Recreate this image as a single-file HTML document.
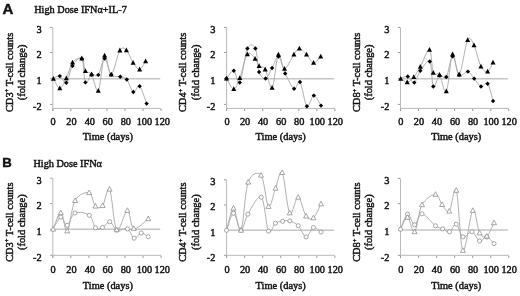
<!DOCTYPE html>
<html><head><meta charset="utf-8"><title>Figure</title>
<style>
html,body{margin:0;padding:0;background:#fff;}
body{width:520px;height:296px;overflow:hidden;}
svg{display:block;filter:blur(0.35px);}
text{font-family:"Liberation Serif",serif;fill:#111;stroke:#111;stroke-width:0.45px;}
text.lbl{font-family:"Liberation Sans",sans-serif;font-weight:bold;}
</style></head>
<body>
<svg width="520" height="296" viewBox="0 0 520 296">
<rect width="520" height="296" fill="#fff"/>
<line x1="52.80" y1="27.40" x2="52.80" y2="111.00" stroke="#b8b8b8" stroke-width="1"/>
<line x1="50.20" y1="27.40" x2="52.30" y2="27.40" stroke="#959595" stroke-width="1"/>
<text x="41.60" y="32.80" text-anchor="end" font-size="10.3">3</text>
<line x1="50.20" y1="52.50" x2="52.30" y2="52.50" stroke="#959595" stroke-width="1"/>
<text x="41.60" y="57.90" text-anchor="end" font-size="10.3">2</text>
<line x1="50.20" y1="78.70" x2="52.30" y2="78.70" stroke="#959595" stroke-width="1"/>
<text x="41.60" y="84.10" text-anchor="end" font-size="10.3">1</text>
<line x1="50.20" y1="104.40" x2="52.30" y2="104.40" stroke="#959595" stroke-width="1"/>
<text x="41.60" y="109.80" text-anchor="end" font-size="10.3">-2</text>
<line x1="52.80" y1="108.40" x2="161.10" y2="108.40" stroke="#b8b8b8" stroke-width="1"/>
<line x1="52.80" y1="108.90" x2="52.80" y2="111.00" stroke="#959595" stroke-width="1"/>
<text x="53.00" y="125.30" text-anchor="middle" font-size="10.3">0</text>
<line x1="70.85" y1="108.90" x2="70.85" y2="111.00" stroke="#959595" stroke-width="1"/>
<text x="71.45" y="125.30" text-anchor="middle" font-size="10.3">20</text>
<line x1="88.90" y1="108.90" x2="88.90" y2="111.00" stroke="#959595" stroke-width="1"/>
<text x="89.80" y="125.30" text-anchor="middle" font-size="10.3">40</text>
<line x1="106.95" y1="108.90" x2="106.95" y2="111.00" stroke="#959595" stroke-width="1"/>
<text x="107.75" y="125.30" text-anchor="middle" font-size="10.3">60</text>
<line x1="125.00" y1="108.90" x2="125.00" y2="111.00" stroke="#959595" stroke-width="1"/>
<text x="125.80" y="125.30" text-anchor="middle" font-size="10.3">80</text>
<line x1="143.05" y1="108.90" x2="143.05" y2="111.00" stroke="#959595" stroke-width="1"/>
<text x="144.45" y="125.30" text-anchor="middle" font-size="10.3">100</text>
<line x1="161.10" y1="108.90" x2="161.10" y2="111.00" stroke="#959595" stroke-width="1"/>
<text x="162.30" y="125.30" text-anchor="middle" font-size="10.3">120</text>
<line x1="52.80" y1="78.70" x2="160.30" y2="78.70" stroke="#c6c6c6" stroke-width="1.5"/>
<text x="107.85" y="139.90" text-anchor="middle" font-size="10.4">Time (days)</text>
<text transform="translate(12.50,72.40) rotate(-90)" text-anchor="middle" font-size="10.4">CD3<tspan font-size="6.5" dy="-3.6">+</tspan><tspan dy="3.6"> T-cell counts</tspan></text>
<text transform="translate(24.70,72.40) rotate(-90)" text-anchor="middle" font-size="10.4">(fold change)</text>
<path d="M53.10,78.60 C54.22,78.18 57.60,75.40 59.80,76.10 C62.00,76.80 64.18,84.50 66.30,82.80 C68.42,81.10 69.92,69.93 72.50,65.90 C75.08,61.87 79.65,55.85 81.80,58.60 C83.95,61.35 83.77,79.70 85.40,82.40 C87.03,85.10 89.45,76.05 91.60,74.80 C93.75,73.55 96.13,77.60 98.30,74.90 C100.47,72.20 102.45,58.65 104.60,58.60 C106.75,58.55 108.58,71.57 111.20,74.60 C113.82,77.63 117.70,75.98 120.30,76.80 C122.90,77.62 124.63,76.97 126.80,79.50 C128.97,82.03 131.17,90.88 133.30,92.00 C135.43,93.12 137.38,84.27 139.60,86.20 C141.82,88.13 145.43,100.70 146.60,103.60" fill="none" stroke="#a6a6a6" stroke-width="0.9"/>
<path d="M53.40,78.80 C54.47,80.38 57.65,88.38 59.80,88.30 C61.95,88.22 64.18,82.58 66.30,78.30 C68.42,74.02 69.92,65.92 72.50,62.60 C75.08,59.28 79.65,57.00 81.80,58.40 C83.95,59.80 83.77,68.37 85.40,71.00 C87.03,73.63 89.45,70.92 91.60,74.20 C93.75,77.48 96.13,93.80 98.30,90.70 C100.47,87.60 102.45,58.30 104.60,55.60 C106.75,52.90 108.65,75.37 111.20,74.50 C113.75,73.63 117.37,54.45 119.90,50.40 C122.43,46.35 124.20,48.15 126.40,50.20 C128.60,52.25 130.90,59.50 133.10,62.70 C135.30,65.90 137.52,69.63 139.60,69.40 C141.68,69.17 144.60,62.65 145.60,61.30" fill="none" stroke="#a6a6a6" stroke-width="0.9"/>
<path d="M59.80,73.90 L62.00,76.10 L59.80,78.30 L57.60,76.10Z" fill="#000"/>
<path d="M66.30,80.60 L68.50,82.80 L66.30,85.00 L64.10,82.80Z" fill="#000"/>
<path d="M72.50,63.70 L74.70,65.90 L72.50,68.10 L70.30,65.90Z" fill="#000"/>
<path d="M81.80,56.40 L84.00,58.60 L81.80,60.80 L79.60,58.60Z" fill="#000"/>
<path d="M85.40,80.20 L87.60,82.40 L85.40,84.60 L83.20,82.40Z" fill="#000"/>
<path d="M91.60,72.60 L93.80,74.80 L91.60,77.00 L89.40,74.80Z" fill="#000"/>
<path d="M98.30,72.70 L100.50,74.90 L98.30,77.10 L96.10,74.90Z" fill="#000"/>
<path d="M104.60,56.40 L106.80,58.60 L104.60,60.80 L102.40,58.60Z" fill="#000"/>
<path d="M111.20,72.40 L113.40,74.60 L111.20,76.80 L109.00,74.60Z" fill="#000"/>
<path d="M120.30,74.60 L122.50,76.80 L120.30,79.00 L118.10,76.80Z" fill="#000"/>
<path d="M126.80,77.30 L129.00,79.50 L126.80,81.70 L124.60,79.50Z" fill="#000"/>
<path d="M133.30,89.80 L135.50,92.00 L133.30,94.20 L131.10,92.00Z" fill="#000"/>
<path d="M139.60,84.00 L141.80,86.20 L139.60,88.40 L137.40,86.20Z" fill="#000"/>
<path d="M146.60,101.40 L148.80,103.60 L146.60,105.80 L144.40,103.60Z" fill="#000"/>
<path d="M53.40,76.00 L55.90,80.80 L50.90,80.80Z" fill="#000"/>
<path d="M59.80,85.50 L62.30,90.30 L57.30,90.30Z" fill="#000"/>
<path d="M66.30,75.50 L68.80,80.30 L63.80,80.30Z" fill="#000"/>
<path d="M72.50,59.80 L75.00,64.60 L70.00,64.60Z" fill="#000"/>
<path d="M81.80,55.60 L84.30,60.40 L79.30,60.40Z" fill="#000"/>
<path d="M85.40,68.20 L87.90,73.00 L82.90,73.00Z" fill="#000"/>
<path d="M91.60,71.40 L94.10,76.20 L89.10,76.20Z" fill="#000"/>
<path d="M98.30,87.90 L100.80,92.70 L95.80,92.70Z" fill="#000"/>
<path d="M104.60,52.80 L107.10,57.60 L102.10,57.60Z" fill="#000"/>
<path d="M111.20,71.70 L113.70,76.50 L108.70,76.50Z" fill="#000"/>
<path d="M119.90,47.60 L122.40,52.40 L117.40,52.40Z" fill="#000"/>
<path d="M126.40,47.40 L128.90,52.20 L123.90,52.20Z" fill="#000"/>
<path d="M133.10,59.90 L135.60,64.70 L130.60,64.70Z" fill="#000"/>
<path d="M139.60,66.60 L142.10,71.40 L137.10,71.40Z" fill="#000"/>
<path d="M145.60,58.50 L148.10,63.30 L143.10,63.30Z" fill="#000"/>
<line x1="226.60" y1="27.40" x2="226.60" y2="111.00" stroke="#b8b8b8" stroke-width="1"/>
<line x1="224.00" y1="27.40" x2="226.10" y2="27.40" stroke="#959595" stroke-width="1"/>
<text x="215.40" y="32.80" text-anchor="end" font-size="10.3">3</text>
<line x1="224.00" y1="52.50" x2="226.10" y2="52.50" stroke="#959595" stroke-width="1"/>
<text x="215.40" y="57.90" text-anchor="end" font-size="10.3">2</text>
<line x1="224.00" y1="78.70" x2="226.10" y2="78.70" stroke="#959595" stroke-width="1"/>
<text x="215.40" y="84.10" text-anchor="end" font-size="10.3">1</text>
<line x1="224.00" y1="104.40" x2="226.10" y2="104.40" stroke="#959595" stroke-width="1"/>
<text x="215.40" y="109.80" text-anchor="end" font-size="10.3">-2</text>
<line x1="226.60" y1="108.40" x2="334.90" y2="108.40" stroke="#b8b8b8" stroke-width="1"/>
<line x1="226.60" y1="108.90" x2="226.60" y2="111.00" stroke="#959595" stroke-width="1"/>
<text x="227.00" y="125.30" text-anchor="middle" font-size="10.3">0</text>
<line x1="244.65" y1="108.90" x2="244.65" y2="111.00" stroke="#959595" stroke-width="1"/>
<text x="245.05" y="125.30" text-anchor="middle" font-size="10.3">20</text>
<line x1="262.70" y1="108.90" x2="262.70" y2="111.00" stroke="#959595" stroke-width="1"/>
<text x="263.10" y="125.30" text-anchor="middle" font-size="10.3">40</text>
<line x1="280.75" y1="108.90" x2="280.75" y2="111.00" stroke="#959595" stroke-width="1"/>
<text x="281.15" y="125.30" text-anchor="middle" font-size="10.3">60</text>
<line x1="298.80" y1="108.90" x2="298.80" y2="111.00" stroke="#959595" stroke-width="1"/>
<text x="299.20" y="125.30" text-anchor="middle" font-size="10.3">80</text>
<line x1="316.85" y1="108.90" x2="316.85" y2="111.00" stroke="#959595" stroke-width="1"/>
<text x="317.25" y="125.30" text-anchor="middle" font-size="10.3">100</text>
<line x1="334.90" y1="108.90" x2="334.90" y2="111.00" stroke="#959595" stroke-width="1"/>
<text x="335.30" y="125.30" text-anchor="middle" font-size="10.3">120</text>
<line x1="226.60" y1="78.70" x2="334.10" y2="78.70" stroke="#c6c6c6" stroke-width="1.5"/>
<text x="280.65" y="139.90" text-anchor="middle" font-size="10.4">Time (days)</text>
<text transform="translate(186.30,72.40) rotate(-90)" text-anchor="middle" font-size="10.4">CD4<tspan font-size="6.5" dy="-3.6">+</tspan><tspan dy="3.6"> T-cell counts</tspan></text>
<text transform="translate(198.50,72.40) rotate(-90)" text-anchor="middle" font-size="10.4">(fold change)</text>
<path d="M226.50,78.50 C227.72,77.22 231.58,70.12 233.80,70.80 C236.02,71.48 237.53,86.32 239.80,82.60 C242.07,78.88 244.80,54.18 247.40,48.50 C250.00,42.82 253.45,44.58 255.40,48.50 C257.35,52.42 257.40,67.00 259.10,72.00 C260.80,77.00 263.43,79.17 265.60,78.50 C267.77,77.83 269.95,71.65 272.10,68.00 C274.25,64.35 276.32,55.68 278.50,56.60 C280.68,57.52 282.60,68.13 285.20,73.50 C287.80,78.87 291.63,87.38 294.10,88.80 C296.57,90.22 297.87,79.10 300.00,82.00 C302.13,84.90 304.60,103.93 306.90,106.20 C309.20,108.47 311.45,95.70 313.80,95.60 C316.15,95.50 319.80,103.93 321.00,105.60" fill="none" stroke="#a6a6a6" stroke-width="0.9"/>
<path d="M226.50,78.50 C227.72,80.27 231.58,89.17 233.80,89.10 C236.02,89.03 237.53,83.92 239.80,78.10 C242.07,72.28 244.85,57.43 247.40,54.20 C249.95,50.97 253.15,56.73 255.10,58.70 C257.05,60.67 257.42,64.22 259.10,66.00 C260.78,67.78 263.03,65.78 265.20,69.40 C267.37,73.02 269.90,90.17 272.10,87.70 C274.30,85.23 276.33,57.75 278.40,54.60 C280.47,51.45 281.92,68.80 284.50,68.80 C287.08,68.80 291.42,57.98 293.90,54.60 C296.38,51.22 297.30,48.50 299.40,48.50 C301.50,48.50 304.13,52.23 306.50,54.60 C308.87,56.97 311.23,62.37 313.60,62.70 C315.97,63.03 319.52,57.62 320.70,56.60" fill="none" stroke="#a6a6a6" stroke-width="0.9"/>
<path d="M226.50,76.30 L228.70,78.50 L226.50,80.70 L224.30,78.50Z" fill="#000"/>
<path d="M233.80,68.60 L236.00,70.80 L233.80,73.00 L231.60,70.80Z" fill="#000"/>
<path d="M239.80,80.40 L242.00,82.60 L239.80,84.80 L237.60,82.60Z" fill="#000"/>
<path d="M247.40,46.30 L249.60,48.50 L247.40,50.70 L245.20,48.50Z" fill="#000"/>
<path d="M255.40,46.30 L257.60,48.50 L255.40,50.70 L253.20,48.50Z" fill="#000"/>
<path d="M259.10,69.80 L261.30,72.00 L259.10,74.20 L256.90,72.00Z" fill="#000"/>
<path d="M265.60,76.30 L267.80,78.50 L265.60,80.70 L263.40,78.50Z" fill="#000"/>
<path d="M272.10,65.80 L274.30,68.00 L272.10,70.20 L269.90,68.00Z" fill="#000"/>
<path d="M278.50,54.40 L280.70,56.60 L278.50,58.80 L276.30,56.60Z" fill="#000"/>
<path d="M285.20,71.30 L287.40,73.50 L285.20,75.70 L283.00,73.50Z" fill="#000"/>
<path d="M294.10,86.60 L296.30,88.80 L294.10,91.00 L291.90,88.80Z" fill="#000"/>
<path d="M300.00,79.80 L302.20,82.00 L300.00,84.20 L297.80,82.00Z" fill="#000"/>
<path d="M306.90,104.00 L309.10,106.20 L306.90,108.40 L304.70,106.20Z" fill="#000"/>
<path d="M313.80,93.40 L316.00,95.60 L313.80,97.80 L311.60,95.60Z" fill="#000"/>
<path d="M321.00,103.40 L323.20,105.60 L321.00,107.80 L318.80,105.60Z" fill="#000"/>
<path d="M226.50,75.70 L229.00,80.50 L224.00,80.50Z" fill="#000"/>
<path d="M233.80,86.30 L236.30,91.10 L231.30,91.10Z" fill="#000"/>
<path d="M239.80,75.30 L242.30,80.10 L237.30,80.10Z" fill="#000"/>
<path d="M247.40,51.40 L249.90,56.20 L244.90,56.20Z" fill="#000"/>
<path d="M255.10,55.90 L257.60,60.70 L252.60,60.70Z" fill="#000"/>
<path d="M259.10,63.20 L261.60,68.00 L256.60,68.00Z" fill="#000"/>
<path d="M265.20,66.60 L267.70,71.40 L262.70,71.40Z" fill="#000"/>
<path d="M272.10,84.90 L274.60,89.70 L269.60,89.70Z" fill="#000"/>
<path d="M278.40,51.80 L280.90,56.60 L275.90,56.60Z" fill="#000"/>
<path d="M284.50,66.00 L287.00,70.80 L282.00,70.80Z" fill="#000"/>
<path d="M293.90,51.80 L296.40,56.60 L291.40,56.60Z" fill="#000"/>
<path d="M299.40,45.70 L301.90,50.50 L296.90,50.50Z" fill="#000"/>
<path d="M306.50,51.80 L309.00,56.60 L304.00,56.60Z" fill="#000"/>
<path d="M313.60,59.90 L316.10,64.70 L311.10,64.70Z" fill="#000"/>
<path d="M320.70,53.80 L323.20,58.60 L318.20,58.60Z" fill="#000"/>
<line x1="400.50" y1="27.40" x2="400.50" y2="111.00" stroke="#b8b8b8" stroke-width="1"/>
<line x1="397.90" y1="27.40" x2="400.00" y2="27.40" stroke="#959595" stroke-width="1"/>
<text x="389.30" y="32.80" text-anchor="end" font-size="10.3">3</text>
<line x1="397.90" y1="52.50" x2="400.00" y2="52.50" stroke="#959595" stroke-width="1"/>
<text x="389.30" y="57.90" text-anchor="end" font-size="10.3">2</text>
<line x1="397.90" y1="78.70" x2="400.00" y2="78.70" stroke="#959595" stroke-width="1"/>
<text x="389.30" y="84.10" text-anchor="end" font-size="10.3">1</text>
<line x1="397.90" y1="104.40" x2="400.00" y2="104.40" stroke="#959595" stroke-width="1"/>
<text x="389.30" y="109.80" text-anchor="end" font-size="10.3">-2</text>
<line x1="400.50" y1="108.40" x2="508.80" y2="108.40" stroke="#b8b8b8" stroke-width="1"/>
<line x1="400.50" y1="108.90" x2="400.50" y2="111.00" stroke="#959595" stroke-width="1"/>
<text x="400.90" y="125.30" text-anchor="middle" font-size="10.3">0</text>
<line x1="418.55" y1="108.90" x2="418.55" y2="111.00" stroke="#959595" stroke-width="1"/>
<text x="418.95" y="125.30" text-anchor="middle" font-size="10.3">20</text>
<line x1="436.60" y1="108.90" x2="436.60" y2="111.00" stroke="#959595" stroke-width="1"/>
<text x="437.00" y="125.30" text-anchor="middle" font-size="10.3">40</text>
<line x1="454.65" y1="108.90" x2="454.65" y2="111.00" stroke="#959595" stroke-width="1"/>
<text x="455.05" y="125.30" text-anchor="middle" font-size="10.3">60</text>
<line x1="472.70" y1="108.90" x2="472.70" y2="111.00" stroke="#959595" stroke-width="1"/>
<text x="473.10" y="125.30" text-anchor="middle" font-size="10.3">80</text>
<line x1="490.75" y1="108.90" x2="490.75" y2="111.00" stroke="#959595" stroke-width="1"/>
<text x="491.15" y="125.30" text-anchor="middle" font-size="10.3">100</text>
<line x1="508.80" y1="108.90" x2="508.80" y2="111.00" stroke="#959595" stroke-width="1"/>
<text x="509.20" y="125.30" text-anchor="middle" font-size="10.3">120</text>
<line x1="400.50" y1="78.70" x2="508.00" y2="78.70" stroke="#c6c6c6" stroke-width="1.5"/>
<text x="456.25" y="139.90" text-anchor="middle" font-size="10.4">Time (days)</text>
<text transform="translate(360.20,72.40) rotate(-90)" text-anchor="middle" font-size="10.4">CD8<tspan font-size="6.5" dy="-3.6">+</tspan><tspan dy="3.6"> T-cell counts</tspan></text>
<text transform="translate(372.40,72.40) rotate(-90)" text-anchor="middle" font-size="10.4">(fold change)</text>
<path d="M400.50,78.50 C401.72,78.17 405.50,75.82 407.80,76.50 C410.10,77.18 412.22,83.55 414.30,82.60 C416.38,81.65 417.72,74.32 420.30,70.80 C422.88,67.28 427.63,58.88 429.80,61.50 C431.97,64.12 431.68,84.17 433.30,86.50 C434.92,88.83 437.33,77.08 439.50,75.50 C441.67,73.92 444.12,80.18 446.30,77.00 C448.48,73.82 450.45,56.73 452.60,56.40 C454.75,56.07 456.65,72.47 459.20,75.00 C461.75,77.53 465.40,71.00 467.90,71.60 C470.40,72.20 472.02,76.12 474.20,78.60 C476.38,81.08 478.77,85.65 481.00,86.50 C483.23,87.35 485.58,81.28 487.60,83.70 C489.62,86.12 492.18,98.12 493.10,101.00" fill="none" stroke="#a6a6a6" stroke-width="0.9"/>
<path d="M400.70,78.80 C401.78,79.37 405.02,82.48 407.20,82.20 C409.38,81.92 411.62,79.67 413.80,77.10 C415.98,74.53 417.68,71.37 420.30,66.80 C422.92,62.23 427.33,48.72 429.50,49.70 C431.67,50.68 431.63,68.50 433.30,72.70 C434.97,76.90 437.33,71.80 439.50,74.90 C441.67,78.00 444.12,94.75 446.30,91.30 C448.48,87.85 450.45,57.02 452.60,54.20 C454.75,51.38 456.68,76.75 459.20,74.40 C461.72,72.05 465.23,44.97 467.70,40.10 C470.17,35.23 471.80,40.80 474.00,45.20 C476.20,49.60 478.63,62.10 480.90,66.50 C483.17,70.90 485.58,72.27 487.60,71.60 C489.62,70.93 492.10,64.02 493.00,62.50" fill="none" stroke="#a6a6a6" stroke-width="0.9"/>
<path d="M407.80,74.30 L410.00,76.50 L407.80,78.70 L405.60,76.50Z" fill="#000"/>
<path d="M414.30,80.40 L416.50,82.60 L414.30,84.80 L412.10,82.60Z" fill="#000"/>
<path d="M420.30,68.60 L422.50,70.80 L420.30,73.00 L418.10,70.80Z" fill="#000"/>
<path d="M429.80,59.30 L432.00,61.50 L429.80,63.70 L427.60,61.50Z" fill="#000"/>
<path d="M433.30,84.30 L435.50,86.50 L433.30,88.70 L431.10,86.50Z" fill="#000"/>
<path d="M439.50,73.30 L441.70,75.50 L439.50,77.70 L437.30,75.50Z" fill="#000"/>
<path d="M446.30,74.80 L448.50,77.00 L446.30,79.20 L444.10,77.00Z" fill="#000"/>
<path d="M452.60,54.20 L454.80,56.40 L452.60,58.60 L450.40,56.40Z" fill="#000"/>
<path d="M459.20,72.80 L461.40,75.00 L459.20,77.20 L457.00,75.00Z" fill="#000"/>
<path d="M467.90,69.40 L470.10,71.60 L467.90,73.80 L465.70,71.60Z" fill="#000"/>
<path d="M474.20,76.40 L476.40,78.60 L474.20,80.80 L472.00,78.60Z" fill="#000"/>
<path d="M481.00,84.30 L483.20,86.50 L481.00,88.70 L478.80,86.50Z" fill="#000"/>
<path d="M487.60,81.50 L489.80,83.70 L487.60,85.90 L485.40,83.70Z" fill="#000"/>
<path d="M493.10,98.80 L495.30,101.00 L493.10,103.20 L490.90,101.00Z" fill="#000"/>
<path d="M400.70,76.00 L403.20,80.80 L398.20,80.80Z" fill="#000"/>
<path d="M407.20,79.40 L409.70,84.20 L404.70,84.20Z" fill="#000"/>
<path d="M413.80,74.30 L416.30,79.10 L411.30,79.10Z" fill="#000"/>
<path d="M420.30,64.00 L422.80,68.80 L417.80,68.80Z" fill="#000"/>
<path d="M429.50,46.90 L432.00,51.70 L427.00,51.70Z" fill="#000"/>
<path d="M433.30,69.90 L435.80,74.70 L430.80,74.70Z" fill="#000"/>
<path d="M439.50,72.10 L442.00,76.90 L437.00,76.90Z" fill="#000"/>
<path d="M446.30,88.50 L448.80,93.30 L443.80,93.30Z" fill="#000"/>
<path d="M452.60,51.40 L455.10,56.20 L450.10,56.20Z" fill="#000"/>
<path d="M459.20,71.60 L461.70,76.40 L456.70,76.40Z" fill="#000"/>
<path d="M467.70,37.30 L470.20,42.10 L465.20,42.10Z" fill="#000"/>
<path d="M474.00,42.40 L476.50,47.20 L471.50,47.20Z" fill="#000"/>
<path d="M480.90,63.70 L483.40,68.50 L478.40,68.50Z" fill="#000"/>
<path d="M487.60,68.80 L490.10,73.60 L485.10,73.60Z" fill="#000"/>
<path d="M493.00,59.70 L495.50,64.50 L490.50,64.50Z" fill="#000"/>
<line x1="52.80" y1="178.20" x2="52.80" y2="257.90" stroke="#b8b8b8" stroke-width="1"/>
<line x1="50.20" y1="178.20" x2="52.30" y2="178.20" stroke="#959595" stroke-width="1"/>
<text x="41.60" y="183.60" text-anchor="end" font-size="10.3">3</text>
<line x1="50.20" y1="203.60" x2="52.30" y2="203.60" stroke="#959595" stroke-width="1"/>
<text x="41.60" y="209.00" text-anchor="end" font-size="10.3">2</text>
<line x1="50.20" y1="229.30" x2="52.30" y2="229.30" stroke="#959595" stroke-width="1"/>
<text x="41.60" y="234.70" text-anchor="end" font-size="10.3">1</text>
<line x1="50.20" y1="255.30" x2="52.30" y2="255.30" stroke="#959595" stroke-width="1"/>
<text x="41.60" y="260.70" text-anchor="end" font-size="10.3">-2</text>
<line x1="52.80" y1="255.30" x2="161.10" y2="255.30" stroke="#b8b8b8" stroke-width="1"/>
<line x1="52.80" y1="255.80" x2="52.80" y2="257.90" stroke="#959595" stroke-width="1"/>
<text x="53.00" y="272.80" text-anchor="middle" font-size="10.3">0</text>
<line x1="70.85" y1="255.80" x2="70.85" y2="257.90" stroke="#959595" stroke-width="1"/>
<text x="71.45" y="272.80" text-anchor="middle" font-size="10.3">20</text>
<line x1="88.90" y1="255.80" x2="88.90" y2="257.90" stroke="#959595" stroke-width="1"/>
<text x="89.80" y="272.80" text-anchor="middle" font-size="10.3">40</text>
<line x1="106.95" y1="255.80" x2="106.95" y2="257.90" stroke="#959595" stroke-width="1"/>
<text x="107.75" y="272.80" text-anchor="middle" font-size="10.3">60</text>
<line x1="125.00" y1="255.80" x2="125.00" y2="257.90" stroke="#959595" stroke-width="1"/>
<text x="125.80" y="272.80" text-anchor="middle" font-size="10.3">80</text>
<line x1="143.05" y1="255.80" x2="143.05" y2="257.90" stroke="#959595" stroke-width="1"/>
<text x="144.45" y="272.80" text-anchor="middle" font-size="10.3">100</text>
<line x1="161.10" y1="255.80" x2="161.10" y2="257.90" stroke="#959595" stroke-width="1"/>
<text x="162.30" y="272.80" text-anchor="middle" font-size="10.3">120</text>
<line x1="52.80" y1="229.30" x2="160.30" y2="229.30" stroke="#c6c6c6" stroke-width="1.5"/>
<text x="107.85" y="289.30" text-anchor="middle" font-size="10.4">Time (days)</text>
<text transform="translate(12.50,222.20) rotate(-90)" text-anchor="middle" font-size="10.4">CD3<tspan font-size="6.5" dy="-3.6">+</tspan><tspan dy="3.6"> T-cell counts</tspan></text>
<text transform="translate(24.70,222.20) rotate(-90)" text-anchor="middle" font-size="10.4">(fold change)</text>
<path d="M53.10,229.20 C54.38,227.17 58.45,217.65 60.80,217.00 C63.15,216.35 64.83,225.97 67.20,225.30 C69.57,224.63 71.32,214.67 75.00,213.00 C78.68,211.33 85.88,212.83 89.30,215.30 C92.72,217.77 93.30,225.77 95.50,227.80 C97.70,229.83 100.12,228.52 102.50,227.50 C104.88,226.48 107.42,221.27 109.80,221.70 C112.18,222.13 113.85,228.90 116.80,230.10 C119.75,231.30 124.62,227.55 127.50,228.90 C130.38,230.25 131.82,237.52 134.10,238.20 C136.38,238.88 138.85,233.25 141.20,233.00 C143.55,232.75 147.03,236.08 148.20,236.70" fill="none" stroke="#a6a6a6" stroke-width="0.9"/>
<path d="M53.10,229.20 C54.38,226.47 58.45,212.50 60.80,212.80 C63.15,213.10 64.82,233.03 67.20,231.00 C69.58,228.97 71.45,206.98 75.10,200.60 C78.75,194.22 85.72,191.77 89.10,192.70 C92.48,193.63 93.15,204.03 95.40,206.20 C97.65,208.37 100.23,208.53 102.60,205.70 C104.97,202.87 107.25,185.18 109.60,189.20 C111.95,193.22 113.73,226.25 116.70,229.80 C119.67,233.35 124.55,210.72 127.40,210.50 C130.25,210.28 130.33,227.12 133.80,228.50 C137.27,229.88 145.80,220.42 148.20,218.80" fill="none" stroke="#a6a6a6" stroke-width="0.9"/>
<circle cx="60.80" cy="217.00" r="2.05" fill="#fff" stroke="#8a8a8a" stroke-width="0.75"/>
<circle cx="67.20" cy="225.30" r="2.05" fill="#fff" stroke="#8a8a8a" stroke-width="0.75"/>
<circle cx="75.00" cy="213.00" r="2.05" fill="#fff" stroke="#8a8a8a" stroke-width="0.75"/>
<circle cx="89.30" cy="215.30" r="2.05" fill="#fff" stroke="#8a8a8a" stroke-width="0.75"/>
<circle cx="95.50" cy="227.80" r="2.05" fill="#fff" stroke="#8a8a8a" stroke-width="0.75"/>
<circle cx="102.50" cy="227.50" r="2.05" fill="#fff" stroke="#8a8a8a" stroke-width="0.75"/>
<circle cx="109.80" cy="221.70" r="2.05" fill="#fff" stroke="#8a8a8a" stroke-width="0.75"/>
<circle cx="116.80" cy="230.10" r="2.05" fill="#fff" stroke="#8a8a8a" stroke-width="0.75"/>
<circle cx="127.50" cy="228.90" r="2.05" fill="#fff" stroke="#8a8a8a" stroke-width="0.75"/>
<circle cx="134.10" cy="238.20" r="2.05" fill="#fff" stroke="#8a8a8a" stroke-width="0.75"/>
<circle cx="141.20" cy="233.00" r="2.05" fill="#fff" stroke="#8a8a8a" stroke-width="0.75"/>
<circle cx="148.20" cy="236.70" r="2.05" fill="#fff" stroke="#8a8a8a" stroke-width="0.75"/>
<path d="M53.10,226.50 L55.60,231.10 L50.60,231.10Z" fill="#fff" stroke="#8a8a8a" stroke-width="0.75"/>
<path d="M60.80,210.10 L63.30,214.70 L58.30,214.70Z" fill="#fff" stroke="#8a8a8a" stroke-width="0.75"/>
<path d="M67.20,228.30 L69.70,232.90 L64.70,232.90Z" fill="#fff" stroke="#8a8a8a" stroke-width="0.75"/>
<path d="M75.10,197.90 L77.60,202.50 L72.60,202.50Z" fill="#fff" stroke="#8a8a8a" stroke-width="0.75"/>
<path d="M89.10,190.00 L91.60,194.60 L86.60,194.60Z" fill="#fff" stroke="#8a8a8a" stroke-width="0.75"/>
<path d="M95.40,203.50 L97.90,208.10 L92.90,208.10Z" fill="#fff" stroke="#8a8a8a" stroke-width="0.75"/>
<path d="M102.60,203.00 L105.10,207.60 L100.10,207.60Z" fill="#fff" stroke="#8a8a8a" stroke-width="0.75"/>
<path d="M109.60,186.50 L112.10,191.10 L107.10,191.10Z" fill="#fff" stroke="#8a8a8a" stroke-width="0.75"/>
<path d="M116.70,227.10 L119.20,231.70 L114.20,231.70Z" fill="#fff" stroke="#8a8a8a" stroke-width="0.75"/>
<path d="M127.40,207.80 L129.90,212.40 L124.90,212.40Z" fill="#fff" stroke="#8a8a8a" stroke-width="0.75"/>
<path d="M133.80,225.80 L136.30,230.40 L131.30,230.40Z" fill="#fff" stroke="#8a8a8a" stroke-width="0.75"/>
<path d="M148.20,216.10 L150.70,220.70 L145.70,220.70Z" fill="#fff" stroke="#8a8a8a" stroke-width="0.75"/>
<line x1="226.60" y1="179.80" x2="226.60" y2="257.90" stroke="#b8b8b8" stroke-width="1"/>
<line x1="224.00" y1="179.80" x2="226.10" y2="179.80" stroke="#959595" stroke-width="1"/>
<text x="215.40" y="185.20" text-anchor="end" font-size="10.3">3</text>
<line x1="224.00" y1="205.00" x2="226.10" y2="205.00" stroke="#959595" stroke-width="1"/>
<text x="215.40" y="210.40" text-anchor="end" font-size="10.3">2</text>
<line x1="224.00" y1="230.30" x2="226.10" y2="230.30" stroke="#959595" stroke-width="1"/>
<text x="215.40" y="235.70" text-anchor="end" font-size="10.3">1</text>
<line x1="224.00" y1="255.30" x2="226.10" y2="255.30" stroke="#959595" stroke-width="1"/>
<text x="215.40" y="260.70" text-anchor="end" font-size="10.3">-2</text>
<line x1="226.60" y1="255.30" x2="334.90" y2="255.30" stroke="#b8b8b8" stroke-width="1"/>
<line x1="226.60" y1="255.80" x2="226.60" y2="257.90" stroke="#959595" stroke-width="1"/>
<text x="227.00" y="272.80" text-anchor="middle" font-size="10.3">0</text>
<line x1="244.65" y1="255.80" x2="244.65" y2="257.90" stroke="#959595" stroke-width="1"/>
<text x="245.05" y="272.80" text-anchor="middle" font-size="10.3">20</text>
<line x1="262.70" y1="255.80" x2="262.70" y2="257.90" stroke="#959595" stroke-width="1"/>
<text x="263.10" y="272.80" text-anchor="middle" font-size="10.3">40</text>
<line x1="280.75" y1="255.80" x2="280.75" y2="257.90" stroke="#959595" stroke-width="1"/>
<text x="281.15" y="272.80" text-anchor="middle" font-size="10.3">60</text>
<line x1="298.80" y1="255.80" x2="298.80" y2="257.90" stroke="#959595" stroke-width="1"/>
<text x="299.20" y="272.80" text-anchor="middle" font-size="10.3">80</text>
<line x1="316.85" y1="255.80" x2="316.85" y2="257.90" stroke="#959595" stroke-width="1"/>
<text x="317.25" y="272.80" text-anchor="middle" font-size="10.3">100</text>
<line x1="334.90" y1="255.80" x2="334.90" y2="257.90" stroke="#959595" stroke-width="1"/>
<text x="335.30" y="272.80" text-anchor="middle" font-size="10.3">120</text>
<line x1="226.60" y1="230.30" x2="334.10" y2="230.30" stroke="#c6c6c6" stroke-width="1.5"/>
<text x="280.65" y="289.30" text-anchor="middle" font-size="10.4">Time (days)</text>
<text transform="translate(186.30,222.20) rotate(-90)" text-anchor="middle" font-size="10.4">CD4<tspan font-size="6.5" dy="-3.6">+</tspan><tspan dy="3.6"> T-cell counts</tspan></text>
<text transform="translate(198.50,222.20) rotate(-90)" text-anchor="middle" font-size="10.4">(fold change)</text>
<path d="M226.60,230.30 C227.75,227.47 231.10,213.30 233.50,213.30 C235.90,213.30 238.60,230.15 241.00,230.30 C243.40,230.45 244.53,219.72 247.90,214.20 C251.27,208.68 257.77,194.38 261.20,197.20 C264.63,200.02 266.13,226.77 268.50,231.10 C270.87,235.43 273.05,224.83 275.40,223.20 C277.75,221.57 280.20,221.68 282.60,221.30 C285.00,220.92 287.20,220.17 289.80,220.90 C292.40,221.63 295.48,223.03 298.20,225.70 C300.92,228.37 303.57,236.60 306.10,236.90 C308.63,237.20 310.92,228.32 313.40,227.50 C315.88,226.68 319.73,231.25 321.00,232.00" fill="none" stroke="#a6a6a6" stroke-width="0.9"/>
<path d="M226.60,230.30 C227.75,226.62 231.10,208.20 233.50,208.20 C235.90,208.20 238.55,234.63 241.00,230.30 C243.45,225.97 244.87,191.37 248.20,182.20 C251.53,173.03 257.62,171.25 261.00,175.30 C264.38,179.35 266.08,204.33 268.50,206.50 C270.92,208.67 273.22,193.95 275.50,188.30 C277.78,182.65 279.83,168.48 282.20,172.60 C284.57,176.72 287.03,208.88 289.70,213.00 C292.37,217.12 295.47,196.78 298.20,197.30 C300.93,197.82 303.57,212.67 306.10,216.10 C308.63,219.53 310.92,219.93 313.40,217.90 C315.88,215.87 319.73,206.23 321.00,203.90" fill="none" stroke="#a6a6a6" stroke-width="0.9"/>
<circle cx="226.60" cy="230.30" r="2.05" fill="#fff" stroke="#8a8a8a" stroke-width="0.75"/>
<circle cx="233.50" cy="213.30" r="2.05" fill="#fff" stroke="#8a8a8a" stroke-width="0.75"/>
<circle cx="241.00" cy="230.30" r="2.05" fill="#fff" stroke="#8a8a8a" stroke-width="0.75"/>
<circle cx="247.90" cy="214.20" r="2.05" fill="#fff" stroke="#8a8a8a" stroke-width="0.75"/>
<circle cx="261.20" cy="197.20" r="2.05" fill="#fff" stroke="#8a8a8a" stroke-width="0.75"/>
<circle cx="268.50" cy="231.10" r="2.05" fill="#fff" stroke="#8a8a8a" stroke-width="0.75"/>
<circle cx="275.40" cy="223.20" r="2.05" fill="#fff" stroke="#8a8a8a" stroke-width="0.75"/>
<circle cx="282.60" cy="221.30" r="2.05" fill="#fff" stroke="#8a8a8a" stroke-width="0.75"/>
<circle cx="289.80" cy="220.90" r="2.05" fill="#fff" stroke="#8a8a8a" stroke-width="0.75"/>
<circle cx="298.20" cy="225.70" r="2.05" fill="#fff" stroke="#8a8a8a" stroke-width="0.75"/>
<circle cx="306.10" cy="236.90" r="2.05" fill="#fff" stroke="#8a8a8a" stroke-width="0.75"/>
<circle cx="313.40" cy="227.50" r="2.05" fill="#fff" stroke="#8a8a8a" stroke-width="0.75"/>
<circle cx="321.00" cy="232.00" r="2.05" fill="#fff" stroke="#8a8a8a" stroke-width="0.75"/>
<path d="M233.50,205.50 L236.00,210.10 L231.00,210.10Z" fill="#fff" stroke="#8a8a8a" stroke-width="0.75"/>
<path d="M241.00,227.60 L243.50,232.20 L238.50,232.20Z" fill="#fff" stroke="#8a8a8a" stroke-width="0.75"/>
<path d="M248.20,179.50 L250.70,184.10 L245.70,184.10Z" fill="#fff" stroke="#8a8a8a" stroke-width="0.75"/>
<path d="M261.00,172.60 L263.50,177.20 L258.50,177.20Z" fill="#fff" stroke="#8a8a8a" stroke-width="0.75"/>
<path d="M268.50,203.80 L271.00,208.40 L266.00,208.40Z" fill="#fff" stroke="#8a8a8a" stroke-width="0.75"/>
<path d="M275.50,185.60 L278.00,190.20 L273.00,190.20Z" fill="#fff" stroke="#8a8a8a" stroke-width="0.75"/>
<path d="M282.20,169.90 L284.70,174.50 L279.70,174.50Z" fill="#fff" stroke="#8a8a8a" stroke-width="0.75"/>
<path d="M289.70,210.30 L292.20,214.90 L287.20,214.90Z" fill="#fff" stroke="#8a8a8a" stroke-width="0.75"/>
<path d="M298.20,194.60 L300.70,199.20 L295.70,199.20Z" fill="#fff" stroke="#8a8a8a" stroke-width="0.75"/>
<path d="M306.10,213.40 L308.60,218.00 L303.60,218.00Z" fill="#fff" stroke="#8a8a8a" stroke-width="0.75"/>
<path d="M313.40,215.20 L315.90,219.80 L310.90,219.80Z" fill="#fff" stroke="#8a8a8a" stroke-width="0.75"/>
<path d="M321.00,201.20 L323.50,205.80 L318.50,205.80Z" fill="#fff" stroke="#8a8a8a" stroke-width="0.75"/>
<line x1="400.50" y1="178.40" x2="400.50" y2="257.90" stroke="#b8b8b8" stroke-width="1"/>
<line x1="397.90" y1="178.40" x2="400.00" y2="178.40" stroke="#959595" stroke-width="1"/>
<text x="389.30" y="183.80" text-anchor="end" font-size="10.3">3</text>
<line x1="397.90" y1="203.70" x2="400.00" y2="203.70" stroke="#959595" stroke-width="1"/>
<text x="389.30" y="209.10" text-anchor="end" font-size="10.3">2</text>
<line x1="397.90" y1="229.90" x2="400.00" y2="229.90" stroke="#959595" stroke-width="1"/>
<text x="389.30" y="235.30" text-anchor="end" font-size="10.3">1</text>
<line x1="397.90" y1="255.30" x2="400.00" y2="255.30" stroke="#959595" stroke-width="1"/>
<text x="389.30" y="260.70" text-anchor="end" font-size="10.3">-2</text>
<line x1="400.50" y1="255.30" x2="508.80" y2="255.30" stroke="#b8b8b8" stroke-width="1"/>
<line x1="400.50" y1="255.80" x2="400.50" y2="257.90" stroke="#959595" stroke-width="1"/>
<text x="400.90" y="272.80" text-anchor="middle" font-size="10.3">0</text>
<line x1="418.55" y1="255.80" x2="418.55" y2="257.90" stroke="#959595" stroke-width="1"/>
<text x="418.95" y="272.80" text-anchor="middle" font-size="10.3">20</text>
<line x1="436.60" y1="255.80" x2="436.60" y2="257.90" stroke="#959595" stroke-width="1"/>
<text x="437.00" y="272.80" text-anchor="middle" font-size="10.3">40</text>
<line x1="454.65" y1="255.80" x2="454.65" y2="257.90" stroke="#959595" stroke-width="1"/>
<text x="455.05" y="272.80" text-anchor="middle" font-size="10.3">60</text>
<line x1="472.70" y1="255.80" x2="472.70" y2="257.90" stroke="#959595" stroke-width="1"/>
<text x="473.10" y="272.80" text-anchor="middle" font-size="10.3">80</text>
<line x1="490.75" y1="255.80" x2="490.75" y2="257.90" stroke="#959595" stroke-width="1"/>
<text x="491.15" y="272.80" text-anchor="middle" font-size="10.3">100</text>
<line x1="508.80" y1="255.80" x2="508.80" y2="257.90" stroke="#959595" stroke-width="1"/>
<text x="509.20" y="272.80" text-anchor="middle" font-size="10.3">120</text>
<line x1="400.50" y1="229.90" x2="508.00" y2="229.90" stroke="#c6c6c6" stroke-width="1.5"/>
<text x="456.25" y="289.30" text-anchor="middle" font-size="10.4">Time (days)</text>
<text transform="translate(360.20,222.20) rotate(-90)" text-anchor="middle" font-size="10.4">CD8<tspan font-size="6.5" dy="-3.6">+</tspan><tspan dy="3.6"> T-cell counts</tspan></text>
<text transform="translate(372.40,222.20) rotate(-90)" text-anchor="middle" font-size="10.4">(fold change)</text>
<path d="M400.50,229.30 C401.67,226.78 405.15,214.95 407.50,214.20 C409.85,213.45 412.18,224.87 414.60,224.80 C417.02,224.73 418.52,213.63 422.00,213.80 C425.48,213.97 432.07,223.28 435.50,225.80 C438.93,228.32 440.27,227.90 442.60,228.90 C444.93,229.90 447.22,232.58 449.50,231.80 C451.78,231.02 454.05,223.35 456.30,224.20 C458.55,225.05 460.38,235.63 463.00,236.90 C465.62,238.17 469.23,231.12 472.00,231.80 C474.77,232.48 477.13,240.13 479.60,241.00 C482.07,241.87 484.40,236.57 486.80,237.00 C489.20,237.43 492.80,242.50 494.00,243.60" fill="none" stroke="#a6a6a6" stroke-width="0.9"/>
<path d="M400.50,229.30 C401.67,227.32 405.15,216.98 407.50,217.40 C409.85,217.82 412.18,233.90 414.60,231.80 C417.02,229.70 418.52,211.03 422.00,204.80 C425.48,198.57 432.15,194.43 435.50,194.40 C438.85,194.37 439.82,201.80 442.10,204.60 C444.38,207.40 446.83,213.57 449.20,211.20 C451.57,208.83 454.02,183.85 456.30,190.40 C458.58,196.95 460.15,247.15 462.90,250.50 C465.65,253.85 470.02,213.42 472.80,210.50 C475.58,207.58 477.27,228.72 479.60,233.00 C481.93,237.28 484.40,237.90 486.80,236.20 C489.20,234.50 492.80,225.03 494.00,222.80" fill="none" stroke="#a6a6a6" stroke-width="0.9"/>
<circle cx="400.50" cy="229.30" r="2.05" fill="#fff" stroke="#8a8a8a" stroke-width="0.75"/>
<circle cx="407.50" cy="214.20" r="2.05" fill="#fff" stroke="#8a8a8a" stroke-width="0.75"/>
<circle cx="414.60" cy="224.80" r="2.05" fill="#fff" stroke="#8a8a8a" stroke-width="0.75"/>
<circle cx="422.00" cy="213.80" r="2.05" fill="#fff" stroke="#8a8a8a" stroke-width="0.75"/>
<circle cx="435.50" cy="225.80" r="2.05" fill="#fff" stroke="#8a8a8a" stroke-width="0.75"/>
<circle cx="442.60" cy="228.90" r="2.05" fill="#fff" stroke="#8a8a8a" stroke-width="0.75"/>
<circle cx="449.50" cy="231.80" r="2.05" fill="#fff" stroke="#8a8a8a" stroke-width="0.75"/>
<circle cx="456.30" cy="224.20" r="2.05" fill="#fff" stroke="#8a8a8a" stroke-width="0.75"/>
<circle cx="463.00" cy="236.90" r="2.05" fill="#fff" stroke="#8a8a8a" stroke-width="0.75"/>
<circle cx="472.00" cy="231.80" r="2.05" fill="#fff" stroke="#8a8a8a" stroke-width="0.75"/>
<circle cx="479.60" cy="241.00" r="2.05" fill="#fff" stroke="#8a8a8a" stroke-width="0.75"/>
<circle cx="486.80" cy="237.00" r="2.05" fill="#fff" stroke="#8a8a8a" stroke-width="0.75"/>
<circle cx="494.00" cy="243.60" r="2.05" fill="#fff" stroke="#8a8a8a" stroke-width="0.75"/>
<path d="M407.50,214.70 L410.00,219.30 L405.00,219.30Z" fill="#fff" stroke="#8a8a8a" stroke-width="0.75"/>
<path d="M414.60,229.10 L417.10,233.70 L412.10,233.70Z" fill="#fff" stroke="#8a8a8a" stroke-width="0.75"/>
<path d="M422.00,202.10 L424.50,206.70 L419.50,206.70Z" fill="#fff" stroke="#8a8a8a" stroke-width="0.75"/>
<path d="M435.50,191.70 L438.00,196.30 L433.00,196.30Z" fill="#fff" stroke="#8a8a8a" stroke-width="0.75"/>
<path d="M442.10,201.90 L444.60,206.50 L439.60,206.50Z" fill="#fff" stroke="#8a8a8a" stroke-width="0.75"/>
<path d="M449.20,208.50 L451.70,213.10 L446.70,213.10Z" fill="#fff" stroke="#8a8a8a" stroke-width="0.75"/>
<path d="M456.30,187.70 L458.80,192.30 L453.80,192.30Z" fill="#fff" stroke="#8a8a8a" stroke-width="0.75"/>
<path d="M462.90,247.80 L465.40,252.40 L460.40,252.40Z" fill="#fff" stroke="#8a8a8a" stroke-width="0.75"/>
<path d="M472.80,207.80 L475.30,212.40 L470.30,212.40Z" fill="#fff" stroke="#8a8a8a" stroke-width="0.75"/>
<path d="M479.60,230.30 L482.10,234.90 L477.10,234.90Z" fill="#fff" stroke="#8a8a8a" stroke-width="0.75"/>
<path d="M486.80,233.50 L489.30,238.10 L484.30,238.10Z" fill="#fff" stroke="#8a8a8a" stroke-width="0.75"/>
<path d="M494.00,220.10 L496.50,224.70 L491.50,224.70Z" fill="#fff" stroke="#8a8a8a" stroke-width="0.75"/>
<text x="2.4" y="14.3" class="lbl" font-size="15">A</text>
<text x="34.2" y="12.5" font-size="10.25">High Dose IFNα+IL-7</text>
<text x="2.2" y="167.4" class="lbl" font-size="13.2">B</text>
<text x="33.4" y="166.9" font-size="10.25">High Dose IFNα</text>
</svg>
</body></html>
